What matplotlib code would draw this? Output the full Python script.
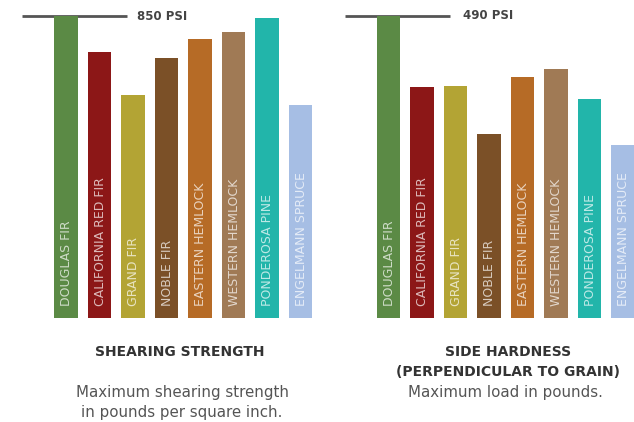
import matplotlib
matplotlib.use("agg")
from matplotlib import pyplot as plt

species = ['DOUGLAS FIR', 'CALIFORNIA RED FIR', 'GRAND FIR', 'NOBLE FIR',
           'EASTERN HEMLOCK', 'WESTERN HEMLOCK', 'PONDEROSA PINE', 'ENGELMANN SPRUCE']
colors = ['#5b8a45', '#8c1717', '#b3a434', '#7b5027',
          '#b66b26', '#a07a55', '#22b5aa', '#a6bee4']

# shearing strength, psi
shear = [850, 750, 628, 732, 785, 805, 845, 600]
# side hardness, pounds
hardness = [490, 375, 376, 299, 391, 404, 355, 281]

W, H = 634, 422
PITCH = 33.5  # px between bar centres

fig = plt.figure(figsize=(W / 100, H / 100), dpi=100)
fig.patch.set_facecolor('white')


def panel(x0, x1, first, values, top_label, line_px, text_px):
    # axes spanning pixels x0..x1, baseline at y=318 px, top value at y=16 px
    ax = fig.add_axes([x0 / W, (H - 318) / H, (x1 - x0) / W, (318 - 16) / H])
    ax.set_xlim((x0 - first) / PITCH, (x1 - first) / PITCH)
    ax.set_ylim(0, max(values))
    ax.axis('off')
    idx = range(len(values))
    ax.bar(idx, values, width=0.69, color=colors, zorder=2)
    ax.hlines(max(values), (line_px[0] - first) / PITCH, (line_px[1] - first) / PITCH,
              color='#555555', lw=2, zorder=1, clip_on=False)
    ax.text((text_px - first) / PITCH, max(values), top_label, ha='left', va='center',
            fontsize=8.5, fontweight='bold', color='#444444', clip_on=False)
    for i, name in zip(idx, species):
        ax.annotate(name, (i, 0), xytext=(0.5, 9), textcoords='offset points',
                    rotation=90, ha='center', va='bottom', fontsize=9,
                    color='white', alpha=0.7, clip_on=False)
    return ax


panel(10, 322, 66, shear, '850 PSI', (22, 127), 137)
panel(330, 634, 388.5, hardness, '490 PSI', (345, 450), 463)

# captions
fig.text(180 / W, 1 - 352 / H, 'SHEARING STRENGTH', ha='center', va='center',
         fontsize=10, fontweight='bold', color='#333333')
fig.text(182 / W, 1 - 393 / H, 'Maximum shearing strength', ha='center', va='center',
         fontsize=10.8, color='#555555')
fig.text(182 / W, 1 - 413 / H, 'in pounds per square inch.', ha='center', va='center',
         fontsize=10.8, color='#555555')

fig.text(508 / W, 1 - 352 / H, 'SIDE HARDNESS', ha='center', va='center',
         fontsize=10, fontweight='bold', color='#333333')
fig.text(508 / W, 1 - 372 / H, '(PERPENDICULAR TO GRAIN)', ha='center', va='center',
         fontsize=10, fontweight='bold', color='#333333')
fig.text(505 / W, 1 - 392 / H, 'Maximum load in pounds.', ha='center', va='center',
         fontsize=10.8, color='#555555')

plt.savefig('out.png', dpi=100)
